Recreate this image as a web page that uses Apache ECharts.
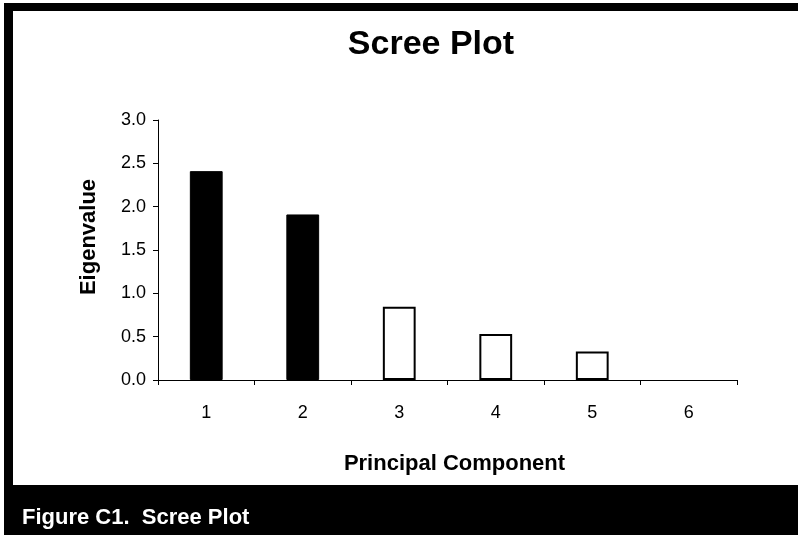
<!DOCTYPE html>
<html>
<head>
<meta charset="utf-8">
<style>
html,body{margin:0;padding:0;background:#fff;}
#chart{width:798px;height:535px;}
</style>
<script src="https://cdn.jsdelivr.net/npm/echarts@6/dist/echarts.min.js"></script>
</head>
<body>
<div id="chart"></div>
<script>
var categories = ['1', '2', '3', '4', '5', '6'];
var eigenvalues = [2.41, 1.91, 0.845, 0.53, 0.33, 0];
var retained = [true, true, false, false, false, false];
var yTicks = { min: 0, max: 3, interval: 0.5 };
var titleText = 'Scree Plot';
var captionText = 'Figure C1.  Scree Plot';
var xName = 'Principal Component';
var yName = 'Eigenvalue';

var font = 'Arial, "Liberation Sans", sans-serif';
var chart = echarts.init(document.getElementById('chart'), null, { renderer: 'canvas' });

var barData = eigenvalues.map(function (v, i) {
  return {
    value: v,
    itemStyle: retained[i]
      ? { color: '#000', borderColor: '#000', borderWidth: 1 }
      : { color: '#fff', borderColor: '#000', borderWidth: v > 0 ? 2 : 0 }
  };
});

chart.setOption({
  animation: false,
  backgroundColor: '#fff',
  graphic: [
    { type: 'rect', z: -10, silent: true, shape: { x: 4, y: 3, width: 794, height: 532 }, style: { fill: '#000' } },
    { type: 'rect', z: -9, silent: true, shape: { x: 13, y: 11, width: 785, height: 474 }, style: { fill: '#fff' } }
  ],
  title: [
    {
      text: titleText,
      left: 426,
      top: 23,
      textAlign: 'center',
      textStyle: { fontFamily: font, fontWeight: 'bold', fontSize: 34, color: '#000' }
    },
    {
      text: captionText,
      left: 17,
      top: 502,
      textStyle: { fontFamily: font, fontWeight: 'bold', fontSize: 22, color: '#fff' }
    }
  ],
  grid: { left: 158, right: 61, top: 120, bottom: 155, containLabel: false },
  xAxis: {
    type: 'category',
    data: categories,
    name: xName,
    nameLocation: 'middle',
    nameGap: 73,
    nameTextStyle: { fontFamily: font, fontWeight: 'bold', fontSize: 22, color: '#000', padding: [0, 0, 0, 14] },
    axisLine: { show: true, lineStyle: { color: '#000', width: 1 } },
    axisTick: { show: true, length: 5, inside: false, lineStyle: { color: '#000' }, alignWithLabel: false },
    axisLabel: { fontFamily: font, fontSize: 18, color: '#000', margin: 24 },
    splitLine: { show: false }
  },
  yAxis: {
    type: 'value',
    min: yTicks.min,
    max: yTicks.max,
    interval: yTicks.interval,
    name: yName,
    nameLocation: 'middle',
    nameGap: 58,
    nameTextStyle: { fontFamily: font, fontWeight: 'bold', fontSize: 22, color: '#000', padding: [0, 0, 0, 26] },
    axisLine: { show: true, lineStyle: { color: '#000', width: 1 } },
    axisTick: { show: true, length: 5, lineStyle: { color: '#000' } },
    axisLabel: {
      fontFamily: font, fontSize: 18, color: '#000', margin: 12,
      formatter: function (v) { return v.toFixed(1); }
    },
    splitLine: { show: false }
  },
  series: [{
    type: 'bar',
    data: barData,
    barWidth: '34%'
  }]
});
</script>
</body>
</html>
